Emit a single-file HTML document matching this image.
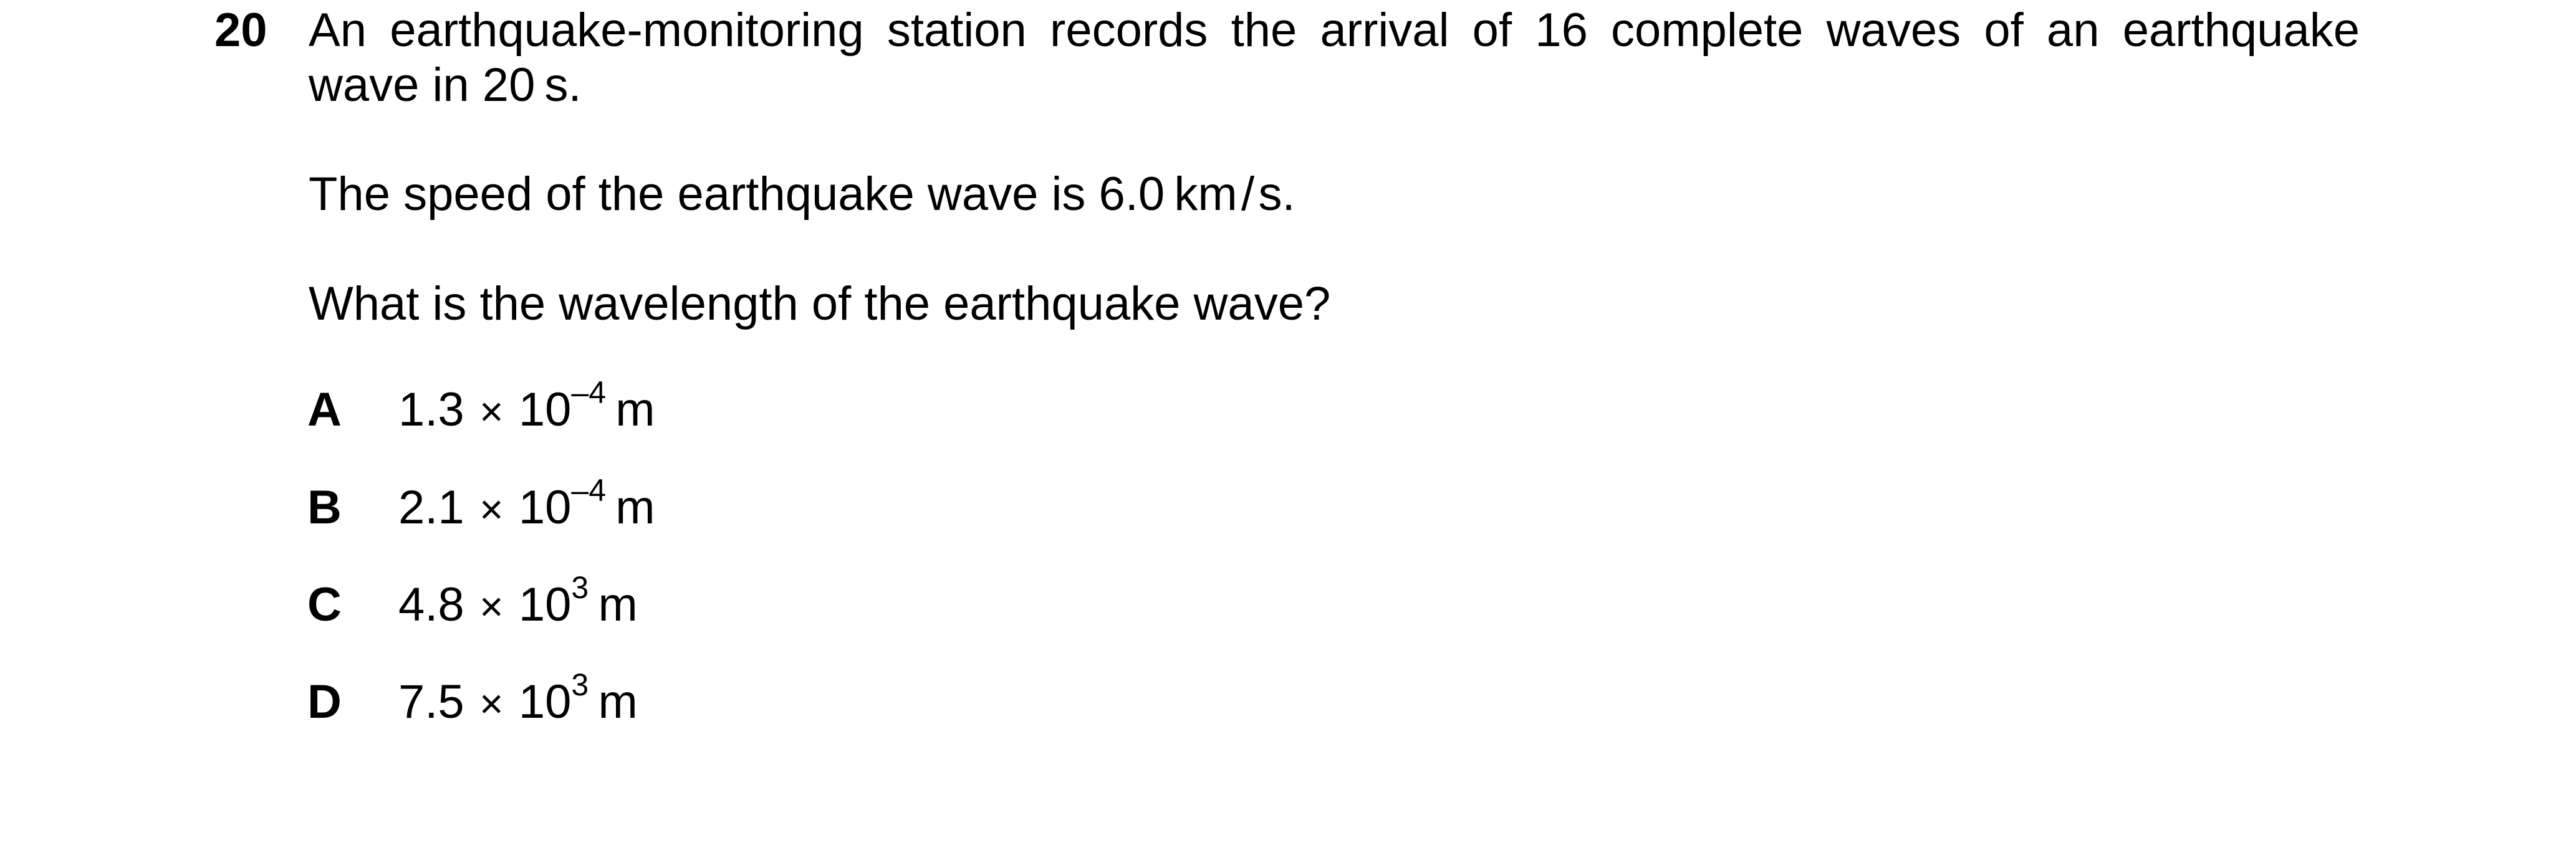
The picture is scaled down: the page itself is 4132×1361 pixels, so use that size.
<!DOCTYPE html>
<html><head><meta charset="utf-8"><style>
html,body{margin:0;padding:0;background:#fff;}
body{width:4132px;height:1361px;position:relative;overflow:hidden;font-family:"Liberation Sans",Arial,sans-serif;font-size:76px;line-height:75px;color:#000;}
.l{position:absolute;white-space:nowrap;}
.j{left:495px;width:3290px;text-align:justify;text-align-last:justify;}
b{font-weight:bold;}
sup{font-size:50px;line-height:0;position:relative;top:-10px;vertical-align:super;}
.opt{position:absolute;left:493px;white-space:nowrap;}
.opt b{display:inline-block;width:146px;}
.x{font-size:66px;margin:0 6px;}
</style></head><body>
<div class="l" style="left:344px;top:11px;"><b>20</b></div>
<div class="l j" style="top:11px;">An earthquake-monitoring station records the arrival of 16 complete waves of an earthquake</div>
<div class="l" style="left:495px;top:99px;">wave in 20&#8201;s.</div>
<div class="l" style="left:495px;top:274px;">The speed of the earthquake wave is 6.0&#8201;km&#8202;/&#8202;s.</div>
<div class="l" style="left:495px;top:450px;">What is the wavelength of the earthquake wave?</div>
<div class="opt" style="top:620px;"><b>A</b>1.3<span class="x"> × </span>10<sup>–4</sup>&#8201;m</div>
<div class="opt" style="top:777px;"><b>B</b>2.1<span class="x"> × </span>10<sup>–4</sup>&#8201;m</div>
<div class="opt" style="top:933px;"><b>C</b>4.8<span class="x"> × </span>10<sup>3</sup>&#8201;m</div>
<div class="opt" style="top:1089px;"><b>D</b>7.5<span class="x"> × </span>10<sup>3</sup>&#8201;m</div>
</body></html>
